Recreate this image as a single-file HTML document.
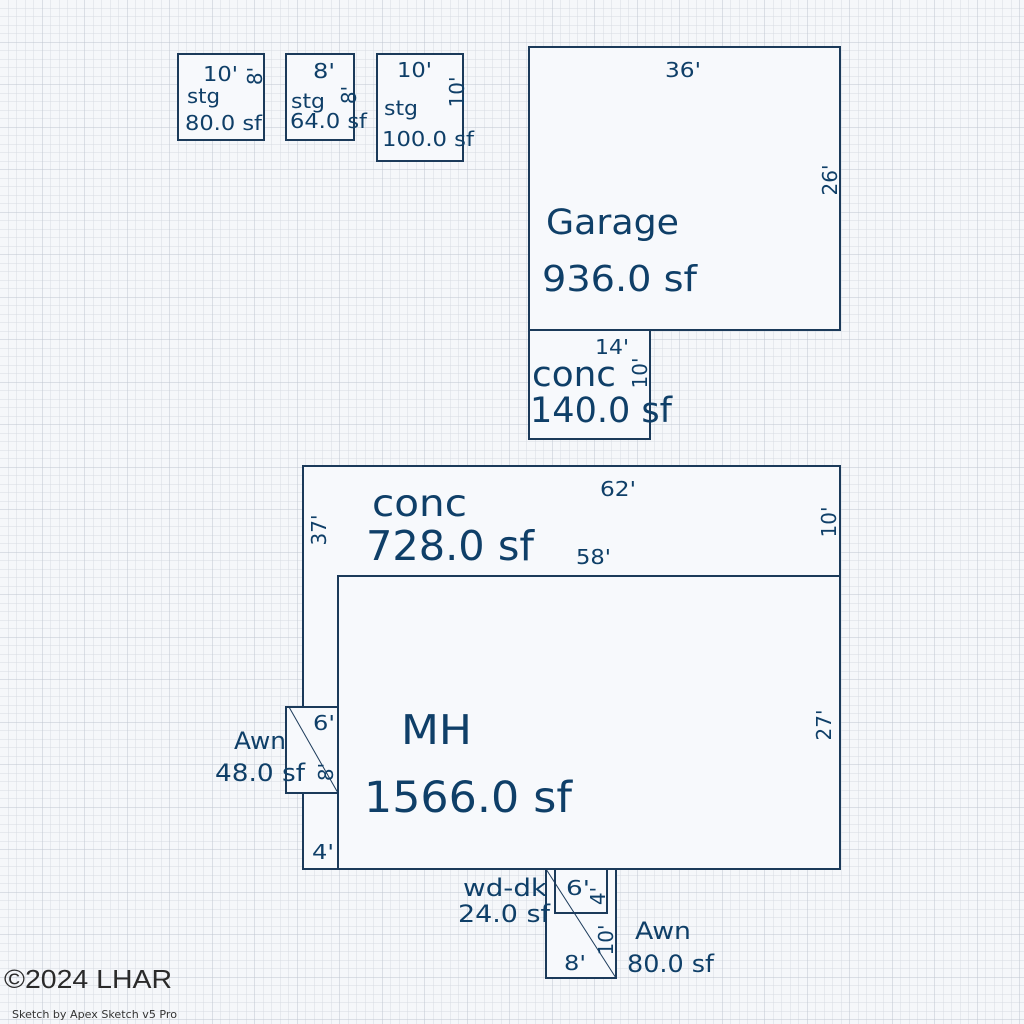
<!DOCTYPE html>
<html><head><meta charset="utf-8"><style>
html,body{margin:0;padding:0;background:#f5f7fa;}
svg{display:block}
text{font-family:"DejaVu Sans","Liberation Sans",sans-serif;fill:#0f3f68;}
</style></head><body>
<svg width="1024" height="1024" viewBox="0 0 1024 1024" xmlns="http://www.w3.org/2000/svg">
<defs>
<pattern id="g" x="0" y="0" width="8.5" height="8.5" patternUnits="userSpaceOnUse">
<path d="M8.5 0V8.5M0 8.5H8.5" stroke="#d6dbe2" stroke-width="1" fill="none"/>
</pattern>
<pattern id="G" x="0" y="0" width="42.5" height="42.5" patternUnits="userSpaceOnUse">
<path d="M42.5 0V42.5M0 42.5H42.5" stroke="#bfc6d0" stroke-width="1" fill="none"/>
</pattern>
</defs>
<rect width="1024" height="1024" fill="#f5f7fa"/>
<rect width="1024" height="1024" fill="url(#g)"/>
<rect width="1024" height="1024" fill="url(#G)"/>
<g fill="#f7f9fc" stroke="#1b3a5a" stroke-width="2">
<rect x="178" y="54" width="86" height="86"/>
<rect x="286" y="54" width="68" height="86"/>
<rect x="377" y="54" width="86" height="107"/>
<rect x="529" y="47" width="311" height="283"/>
<rect x="529" y="330" width="121" height="109"/>
<rect x="303" y="466" width="537" height="403"/>
<rect x="338" y="576" width="502" height="293"/>
<rect x="286" y="707" width="52" height="86"/>
<line x1="303" y1="793" x2="338" y2="793"/>
<rect x="546" y="869" width="70" height="109"/>
<rect x="555" y="869" width="52" height="44"/>
</g>
<g stroke="#1b3a5a" stroke-width="1">
<line x1="289" y1="707" x2="338" y2="793"/>
<line x1="546" y1="869" x2="616" y2="978"/>
</g>
<g font-size="20" lengthAdjust="spacingAndGlyphs">
<text x="203" y="81" textLength="35" lengthAdjust="spacingAndGlyphs">10'</text>
<text x="187" y="103" textLength="33" lengthAdjust="spacingAndGlyphs">stg</text>
<text x="185" y="130" textLength="77" lengthAdjust="spacingAndGlyphs">80.0 sf</text>
<text x="313" y="78" textLength="22" lengthAdjust="spacingAndGlyphs">8'</text>
<text x="291" y="108" textLength="34" lengthAdjust="spacingAndGlyphs">stg</text>
<text x="290" y="128" textLength="77" lengthAdjust="spacingAndGlyphs">64.0 sf</text>
<text x="397" y="77" textLength="35" lengthAdjust="spacingAndGlyphs">10'</text>
<text x="384" y="115" textLength="34" lengthAdjust="spacingAndGlyphs">stg</text>
<text x="382" y="146" textLength="92" lengthAdjust="spacingAndGlyphs">100.0 sf</text>
<text transform="translate(262,76) rotate(-90)" text-anchor="middle">8'</text>
<text transform="translate(356,95) rotate(-90)" text-anchor="middle">8'</text>
<text transform="translate(464,92) rotate(-90)" text-anchor="middle">10'</text>
<text x="665" y="77" textLength="36" lengthAdjust="spacingAndGlyphs">36'</text>
<text transform="translate(837,180) rotate(-90)" text-anchor="middle">26'</text>
<text x="595" y="354" textLength="34" lengthAdjust="spacingAndGlyphs">14'</text>
<text transform="translate(647,373) rotate(-90)" text-anchor="middle">10'</text>
<text x="600" y="496" textLength="36" lengthAdjust="spacingAndGlyphs">62'</text>
<text transform="translate(836,522) rotate(-90)" text-anchor="middle">10'</text>
<text transform="translate(326,530) rotate(-90)" text-anchor="middle">37'</text>
<text x="576" y="564" textLength="35" lengthAdjust="spacingAndGlyphs">58'</text>
<text transform="translate(831,725) rotate(-90)" text-anchor="middle">27'</text>
<text x="313" y="730" textLength="22" lengthAdjust="spacingAndGlyphs">6'</text>
<text transform="translate(333,772) rotate(-90)" text-anchor="middle">8'</text>
<text x="312" y="859" textLength="22" lengthAdjust="spacingAndGlyphs">4'</text>
<text x="566" y="895" textLength="24" lengthAdjust="spacingAndGlyphs">6'</text>
<text transform="translate(605,896) rotate(-90)" text-anchor="middle">4'</text>
<text transform="translate(613,940) rotate(-90)" text-anchor="middle">10'</text>
<text x="564" y="970" textLength="22" lengthAdjust="spacingAndGlyphs">8'</text>
</g>
<g font-size="24">
<text x="234" y="749" textLength="52" lengthAdjust="spacingAndGlyphs">Awn</text>
<text x="215" y="781" textLength="90" lengthAdjust="spacingAndGlyphs">48.0 sf</text>
<text x="463" y="896" textLength="84" lengthAdjust="spacingAndGlyphs">wd-dk</text>
<text x="458" y="922" textLength="92" lengthAdjust="spacingAndGlyphs">24.0 sf</text>
<text x="635" y="939" textLength="56" lengthAdjust="spacingAndGlyphs">Awn</text>
<text x="627" y="972" textLength="87" lengthAdjust="spacingAndGlyphs">80.0 sf</text>
</g>
<text x="546" y="234" font-size="35" textLength="133" lengthAdjust="spacingAndGlyphs">Garage</text>
<text x="542" y="291" font-size="36" textLength="155" lengthAdjust="spacingAndGlyphs">936.0 sf</text>
<text x="532" y="386" font-size="35" textLength="84" lengthAdjust="spacingAndGlyphs">conc</text>
<text x="530" y="422" font-size="35" textLength="142" lengthAdjust="spacingAndGlyphs">140.0 sf</text>
<text x="372" y="516" font-size="37" textLength="95" lengthAdjust="spacingAndGlyphs">conc</text>
<text x="366" y="560" font-size="41" textLength="168" lengthAdjust="spacingAndGlyphs">728.0 sf</text>
<text x="401" y="744" font-size="41" textLength="71" lengthAdjust="spacingAndGlyphs">MH</text>
<text x="364" y="812" font-size="43" textLength="208" lengthAdjust="spacingAndGlyphs">1566.0 sf</text>
<text x="4" y="988" font-size="26" style="fill:#2a2a2a;font-family:'Liberation Sans Narrow','Liberation Sans',sans-serif" textLength="168" lengthAdjust="spacingAndGlyphs">©2024 LHAR</text>
<text x="12" y="1018" font-size="11" style="fill:#333" textLength="165" lengthAdjust="spacingAndGlyphs">Sketch by Apex Sketch v5 Pro</text>
</svg>
</body></html>
